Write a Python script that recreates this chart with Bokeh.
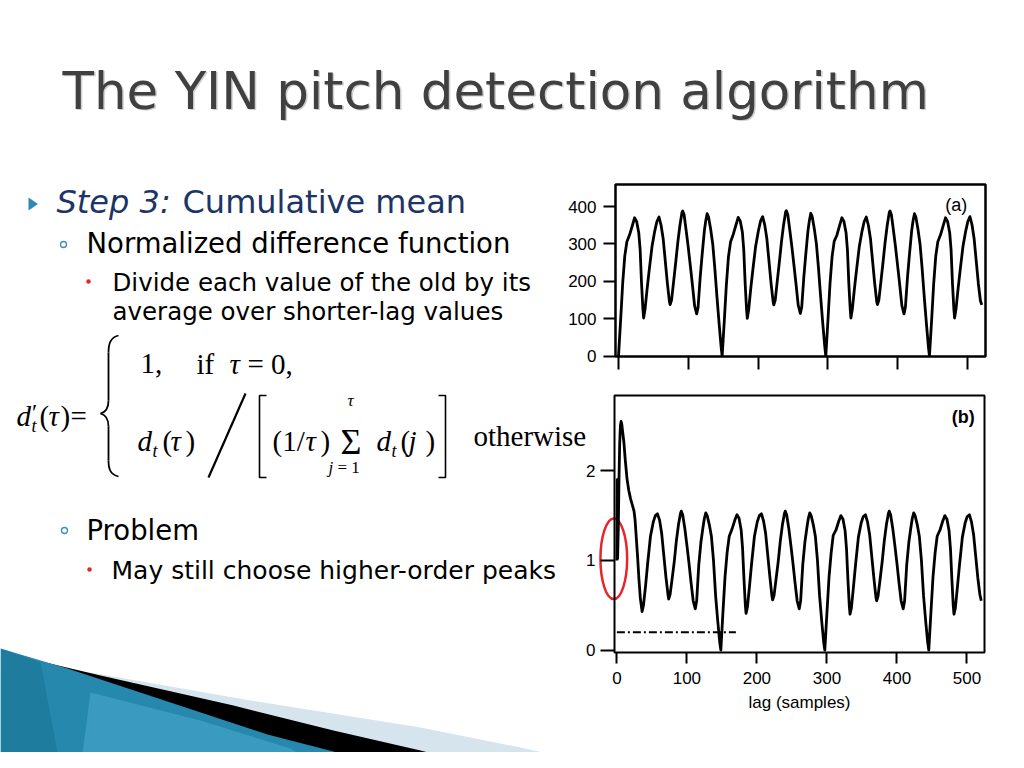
import numpy as np
from bokeh.plotting import figure
from bokeh.models import Range1d, FixedTicker
from bokeh.core.properties import value
from bokeh.embed import file_html
from bokeh.resources import INLINE

# ---------------- data ----------------
# (a) difference function d_t(tau)
lag_a = [0, 3, 6, 9, 12, 16, 20, 23, 26, 29, 31, 33, 35, 36, 38, 41, 44, 48, 52, 55, 58, 61, 64, 67, 70, 73, 74, 76,
         79, 82, 85, 88, 91, 92, 94, 97, 100, 103, 106, 109, 112, 114, 117, 120, 123, 125, 127, 129, 132, 135, 138,
         141, 144, 147,
         148.5, 151.5, 154.5, 157.5, 160.5, 164.5, 168.5, 171.5, 174.5, 177.5, 179.5, 181.5, 183.5, 184.5, 186.5,
         189.5, 192.5, 196.5, 200.5, 203.5, 206.5, 209.5, 212.5, 215.5, 218.5, 221.5, 222.5, 224.5, 227.5, 230.5,
         233.5, 236.5, 239.5, 240.5, 242.5, 245.5, 248.5, 251.5, 254.5, 257.5, 260.5, 262.5, 265.5, 268.5, 271.5,
         273.5, 275.5, 277.5, 280.5, 283.5, 286.5, 289.5, 292.5, 295.5,
         297, 300, 303, 306, 309, 313, 317, 320, 323, 326, 328, 330, 332, 333, 335, 338, 341, 345, 349, 352, 355, 358,
         361, 364, 367, 370, 371, 373, 376, 379, 382, 385, 388, 389, 391, 394, 397, 400, 403, 406, 409, 411, 414, 417,
         420, 422, 424, 426, 429, 432, 435, 438, 441, 444,
         445.5, 448.5, 451.5, 454.5, 457.5, 461.5, 465.5, 468.5, 471.5, 474.5, 476.5, 478.5, 480.5, 481.5, 483.5,
         486.5, 489.5, 493.5, 497.5, 500.5, 503.5, 506.5, 509.5, 512.5, 515.5, 518.5, 520.5]
diff_a = [0, 95, 195, 268, 306, 325, 350, 370, 360, 330, 285, 195, 125, 102, 125, 180, 230, 293, 335, 360, 372, 350,
          314, 255, 195, 145, 138, 150, 200, 251, 305, 350, 385, 388, 378, 335, 290, 240, 189, 135, 113, 130, 210, 275,
          335, 362, 381, 372, 340, 300, 235, 160, 90, 25,
          0, 92, 190, 265, 305, 326, 352, 371, 361, 331, 283, 193, 124, 101, 124, 181, 231, 294, 336, 361, 373, 351,
          315, 256, 196, 146, 137, 149, 201, 252, 306, 351, 386, 389, 379, 336, 291, 241, 190, 136, 114, 131, 211, 276,
          336, 363, 382, 373, 341, 301, 236, 161, 91, 26,
          0, 94, 193, 266, 307, 324, 351, 370, 360, 330, 284, 194, 125, 102, 125, 180, 230, 293, 335, 360, 372, 350,
          314, 255, 195, 145, 138, 150, 200, 251, 305, 350, 385, 388, 378, 335, 290, 240, 189, 135, 113, 130, 210, 275,
          335, 362, 381, 372, 340, 300, 235, 160, 90, 25,
          0, 93, 192, 267, 306, 325, 351, 370, 360, 330, 284, 194, 125, 102, 125, 180, 230, 293, 335, 360, 373, 351,
          314, 255, 195, 148, 137]

# (b) cumulative mean normalized difference d'_t(tau)
lag_b = [0, 0.5, 1, 2, 3, 4, 5, 6, 7, 8, 10, 12, 14.5, 17, 19.5, 22, 24.5, 26, 27.5, 29.5, 31.5, 33.5, 36, 38, 41, 44,
         48, 52, 55, 58, 61, 64, 67, 70, 73, 74, 76, 79, 82, 85, 88, 91, 92, 94, 97, 100, 103, 106, 109, 112, 114,
         117, 120, 123, 125, 127, 129, 132, 135, 138, 141, 144, 147,
         148.5, 151.5, 154.5, 157.5, 160.5, 164.5, 168.5, 171.5, 174.5, 177.5, 179.5, 181.5, 183.5, 184.5, 186.5,
         189.5, 192.5, 196.5, 200.5, 203.5, 206.5, 209.5, 212.5, 215.5, 218.5, 221.5, 222.5, 224.5, 227.5, 230.5,
         233.5, 236.5, 239.5, 240.5, 242.5, 245.5, 248.5, 251.5, 254.5, 257.5, 260.5, 262.5, 265.5, 268.5, 271.5,
         273.5, 275.5, 277.5, 280.5, 283.5, 286.5, 289.5, 292.5, 295.5,
         297, 300, 303, 306, 309, 313, 317, 320, 323, 326, 328, 330, 332, 333, 335, 338, 341, 345, 349, 352, 355, 358,
         361, 364, 367, 370, 371, 373, 376, 379, 382, 385, 388, 389, 391, 394, 397, 400, 403, 406, 409, 411, 414, 417,
         420, 422, 424, 426, 429, 432, 435, 438, 441, 444,
         445.5, 448.5, 451.5, 454.5, 457.5, 461.5, 465.5, 468.5, 471.5, 474.5, 476.5, 478.5, 480.5, 481.5, 483.5,
         486.5, 489.5, 493.5, 497.5, 500.5, 503.5, 506.5, 509.5, 512.5, 515.5, 518.5, 520.5]
cmnd_b = [1.0, 1.9, 1.02, 1.35, 1.9, 2.3, 2.5, 2.55, 2.52, 2.45, 2.32, 2.12, 1.91, 1.78, 1.69, 1.62, 1.55, 1.45, 1.28,
          1.05, 0.79, 0.58, 0.43, 0.50, 0.72, 0.97, 1.27, 1.43, 1.50, 1.52, 1.45, 1.30, 1.06, 0.82, 0.62, 0.57, 0.62,
          0.80, 0.99, 1.22, 1.40, 1.53, 1.55, 1.51, 1.36, 1.17, 0.97, 0.75, 0.55, 0.46, 0.55, 0.95, 1.20, 1.37, 1.47,
          1.53, 1.50, 1.40, 1.27, 1.00, 0.61, 0.33, 0.08,
          0.0, 0.42, 0.82, 1.09, 1.27, 1.35, 1.45, 1.51, 1.47, 1.34, 1.14, 0.80, 0.50, 0.41, 0.48, 0.72, 0.97, 1.27,
          1.43, 1.50, 1.52, 1.44, 1.30, 1.06, 0.82, 0.60, 0.56, 0.61, 0.80, 0.99, 1.22, 1.40, 1.53, 1.55, 1.51, 1.36,
          1.17, 0.97, 0.75, 0.55, 0.46, 0.55, 0.95, 1.20, 1.37, 1.47, 1.53, 1.50, 1.40, 1.27, 1.00, 0.61, 0.33, 0.08,
          0.0, 0.41, 0.81, 1.08, 1.28, 1.34, 1.44, 1.50, 1.46, 1.33, 1.13, 0.79, 0.49, 0.40, 0.47, 0.71, 0.96, 1.26,
          1.42, 1.49, 1.51, 1.43, 1.29, 1.05, 0.81, 0.59, 0.55, 0.60, 0.79, 0.99, 1.22, 1.40, 1.53, 1.55, 1.51, 1.36,
          1.17, 0.97, 0.75, 0.55, 0.46, 0.55, 0.95, 1.20, 1.37, 1.47, 1.53, 1.50, 1.40, 1.27, 1.00, 0.61, 0.33, 0.08,
          0.0, 0.41, 0.81, 1.08, 1.27, 1.34, 1.44, 1.50, 1.46, 1.33, 1.13, 0.79, 0.49, 0.40, 0.47, 0.71, 0.96, 1.26,
          1.42, 1.49, 1.51, 1.43, 1.29, 1.05, 0.81, 0.62, 0.55]

threshold_value = 0.2
threshold_lags = [0, 170]
ticks_x = [0, 100, 200, 300, 400, 500]
ticks_a_y = [0, 100, 200, 300, 400]
ticks_b_y = [0, 1, 2]
panel_a_label = "(a)"
panel_b_label = "(b)"
x_axis_title = "lag (samples)"

title_text = "The YIN pitch detection algorithm"
step_label = "Step 3:"
step_text = "Cumulative mean"
sub1_text = "Normalized difference function"
item1_lines = ["Divide each value of the old by its", "average over shorter-lag values"]
sub2_text = "Problem"
item2_text = "May still choose higher-order peaks"

SANS = "DejaVu Sans"
SERIF = "Liberation Serif"
PLOTFONT = "Liberation Sans"
BASELINE_SHIFT = 0.34  # em correction for the svg text baseline


def txt(f, x, y, s, size, font=SANS, style="normal", color="black", align="left"):
    f.text(x=[x], y=[y - BASELINE_SHIFT * size], text=[s], text_font=value(font),
           text_font_size=f"{size}px", text_font_style=style, text_color=color,
           text_align=align, text_baseline="alphabetic")


# ---------------- slide canvas (page pixel coordinates) ----------------
slide = figure(width=1008, height=752, x_range=Range1d(0, 1008), y_range=Range1d(752, 0),
               x_axis_type=None, y_axis_type=None, output_backend="svg", toolbar_location=None,
               min_border=0)
slide.outline_line_color = None
slide.background_fill_color = "white"
slide.border_fill_color = "white"

# decorative swoosh
slide.patch([90, 250, 420, 520, 615, 0, 0], [672, 700, 727, 747, 768, 768, 672],
            color="#d6e4ee", line_color=None)
slide.patch([45, 100, 233, 333, 420, 490, 0], [662, 675, 705, 730, 750, 768, 768],
            color="black", line_color=None)
slide.patch([0, 67, 167, 267, 333, 370, 0], [648, 668, 701, 734, 751, 768, 768],
            color="#2688ad", line_color=None)
slide.patch([90, 200, 290, 320, 80], [692, 720, 748, 768, 768],
            color="#5ab7da", alpha=0.4, line_color=None)
slide.patch([0, 40, 60, 0], [648, 662, 768, 768], color="#16708f", alpha=0.5, line_color=None)

# title
txt(slide, 63.5, 109.5, title_text, 51.5, color="#d0d0d0")
txt(slide, 62, 108, title_text, 51.5, color="#404040")

# bullets and text
slide.patch([28, 28, 37.5], [197, 210, 203.5], color="#2f8ab3", line_color=None)
txt(slide, 56, 212, step_label, 32, style="italic", color="#1c3566")
txt(slide, 182, 212, step_text, 32, color="#1c3566")
slide.scatter([63], [244], marker="circle", size=6, fill_color=None, line_color="#3a8fb7", line_width=1.3)
txt(slide, 86, 252, sub1_text, 27.5)
slide.scatter([88], [281], marker="circle", size=4.5, fill_color="#e0262b", line_color=None)
txt(slide, 112, 290, item1_lines[0], 24.5)
txt(slide, 112, 319, item1_lines[1], 24.5)
slide.scatter([64], [530], marker="circle", size=6, fill_color=None, line_color="#3a8fb7", line_width=1.3)
txt(slide, 86, 539, sub2_text, 27.5)
slide.scatter([89], [569], marker="circle", size=4.5, fill_color="#e0262b", line_color=None)
txt(slide, 111, 578, item2_text, 25)

# formula
slide.bezier(x0=[118, 108, 100, 108], y0=[335, 400, 413, 460],
             x1=[108, 100, 108, 118], y1=[352, 413, 426, 476],
             cx0=[110, 108, 104, 108], cy0=[337, 408, 414, 469],
             cx1=[108, 104, 108, 110], cy1=[343, 412, 418, 474],
             line_color="black", line_width=1.8)
slide.segment(x0=[108, 108], y0=[352, 426], x1=[108, 108], y1=[400, 460], line_color="black", line_width=1.8)
txt(slide, 140, 373, "1,", 29, font=SERIF)
txt(slide, 196, 373, "if", 29, font=SERIF)
txt(slide, 229, 373, "τ", 29, font=SERIF, style="italic")
txt(slide, 247, 373, "= 0,", 29, font=SERIF)
txt(slide, 16, 425, "d", 29, font=SERIF, style="italic")
txt(slide, 30, 420, "′", 24, font=SERIF, style="italic")
txt(slide, 31, 432, "t", 18, font=SERIF, style="italic")
txt(slide, 39, 425, "(", 29, font=SERIF)
txt(slide, 48, 425, "τ", 29, font=SERIF, style="italic")
txt(slide, 60, 425, ")", 29, font=SERIF)
txt(slide, 70, 425, "=", 29, font=SERIF)
txt(slide, 137, 450, "d", 29, font=SERIF, style="italic")
txt(slide, 152, 457, "t", 18, font=SERIF, style="italic")
txt(slide, 162, 450, "(", 29, font=SERIF)
txt(slide, 170, 450, "τ", 29, font=SERIF, style="italic")
txt(slide, 185, 450, ")", 29, font=SERIF)
slide.segment(x0=[245], y0=[393], x1=[208], y1=[477], line_color="black", line_width=2.2)
slide.multi_line(xs=[[266, 259, 259, 266], [438, 445, 445, 438]],
                 ys=[[395, 395, 477, 477], [395, 395, 477, 477]],
                 line_color="black", line_width=1.6)
txt(slide, 272, 450, "(1/", 29, font=SERIF)
txt(slide, 305, 450, "τ", 29, font=SERIF, style="italic")
txt(slide, 320, 450, ")", 29, font=SERIF)
txt(slide, 340, 454, "Σ", 36, font=SERIF)
txt(slide, 347, 406, "τ", 17, font=SERIF, style="italic")
txt(slide, 328, 473, "j", 17, font=SERIF, style="italic")
txt(slide, 337, 473, "= 1", 17, font=SERIF)
txt(slide, 376, 450, "d", 29, font=SERIF, style="italic")
txt(slide, 391, 457, "t", 18, font=SERIF, style="italic")
txt(slide, 400, 450, "(", 29, font=SERIF)
txt(slide, 408, 450, "j", 29, font=SERIF, style="italic")
txt(slide, 425, 450, ")", 29, font=SERIF)
txt(slide, 473, 445, "otherwise", 29, font=SERIF)

# red highlight ellipse around lag 0 of panel (b) (drawn on the slide so it can cross the axis)
slide.ellipse(x=[613.3], y=[558.3], width=26.7, height=80.7, fill_color=None,
              line_color="#e5262b", line_width=2.5)


# ---------------- plot styling helper ----------------
def style_axes(p):
    p.grid.visible = False
    p.outline_line_color = "black"
    p.outline_line_width = 2
    p.background_fill_alpha = 0
    p.border_fill_alpha = 0
    for ax in p.axis:
        ax.axis_line_color = None
        ax.minor_tick_line_color = None
        ax.major_tick_in = 0
        ax.major_tick_line_width = 2
        ax.major_tick_line_color = "black"
        ax.major_label_text_font = PLOTFONT
        ax.major_label_text_font_size = "17px"
        ax.major_label_text_color = "black"


def place(p, left, top):
    p.styles = {"position": "absolute", "left": f"{left}px", "top": f"{top}px", "z-index": "2"}
    p.stylesheets = [f":host {{ position: absolute !important; left: {left}px !important; "
                     f"top: {top}px !important; z-index: 2; }}"]


# ---------------- plot (a) ----------------
pa = figure(width=450, height=228, x_range=Range1d(-4.3, 525.8), y_range=Range1d(-1, 459),
            output_backend="svg", toolbar_location=None,
            min_border_left=57, min_border_right=23, min_border_top=26, min_border_bottom=30)
pa.line(lag_a, diff_a, line_color="black", line_width=2.8, line_join="round")
style_axes(pa)
pa.outline_line_width = 2.5
pa.xaxis.ticker = FixedTicker(ticks=ticks_x)
pa.yaxis.ticker = FixedTicker(ticks=ticks_a_y)
pa.yaxis.major_tick_out = 12
pa.yaxis.major_label_standoff = 7
pa.xaxis.major_tick_out = 13
pa.xaxis.major_label_text_font_size = "0px"
pa.xaxis.major_label_text_color = None
pa.xaxis.major_label_standoff = 0
pa.text(x=[484], y=[403], text=[panel_a_label], text_font=value(PLOTFONT), text_font_size="18px",
        text_align="center", text_baseline="middle", text_color="black")
place(pa, 558, 158)

# ---------------- plot (b) ----------------
pb = figure(width=426, height=366, x_range=Range1d(-3.4, 525.1), y_range=Range1d(-0.027, 2.84),
            output_backend="svg", toolbar_location=None,
            min_border_left=33, min_border_right=23, min_border_top=9, min_border_bottom=100)
pb.line(lag_b, cmnd_b, line_color="black", line_width=2.8, line_join="round")
pb.line(threshold_lags, [threshold_value] * len(threshold_lags), line_color="black", line_width=2,
        line_dash="8 3 2 3")
style_axes(pb)
pb.xaxis.ticker = FixedTicker(ticks=ticks_x)
pb.yaxis.ticker = FixedTicker(ticks=ticks_b_y)
pb.yaxis.major_tick_out = 14
pb.yaxis.major_label_standoff = 5
pb.xaxis.major_tick_out = 11
pb.xaxis.major_label_standoff = 8
pb.xaxis.axis_label = x_axis_title
pb.xaxis.axis_label_text_font = PLOTFONT
pb.xaxis.axis_label_text_font_size = "17px"
pb.xaxis.axis_label_text_font_style = "normal"
pb.xaxis.axis_label_text_color = "black"
pb.xaxis.axis_label_standoff = 6
pb.text(x=[494.7], y=[2.60], text=[panel_b_label], text_font=value(PLOTFONT), text_font_size="18px",
        text_font_style="bold", text_align="center", text_baseline="middle", text_color="black")
place(pb, 581, 386)

open("out.html", "w").write(file_html([slide, pa, pb], INLINE))
